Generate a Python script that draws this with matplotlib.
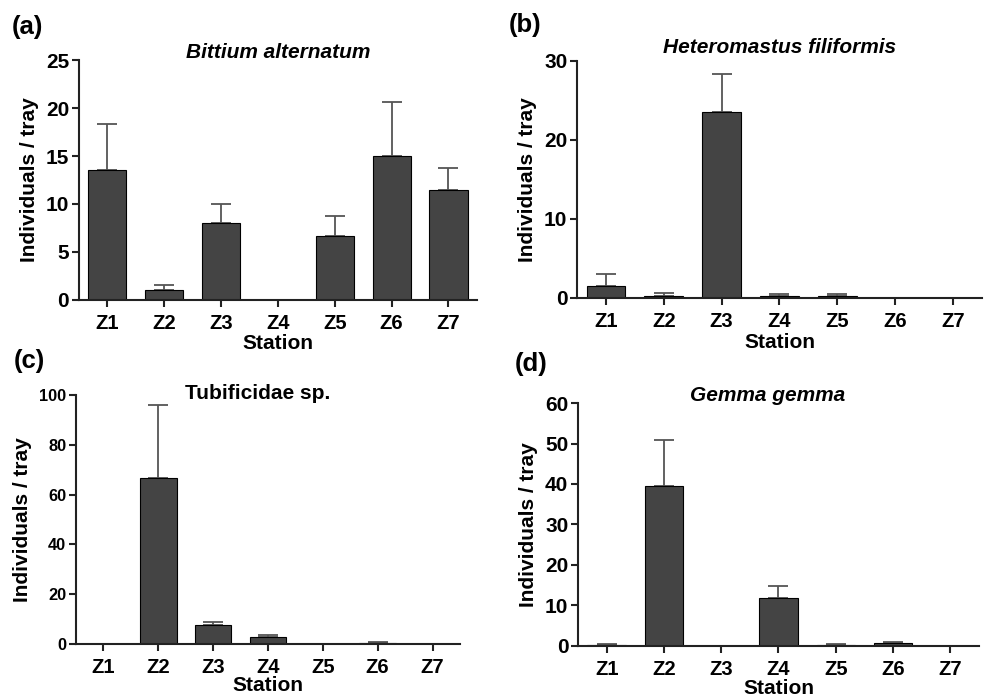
import matplotlib
matplotlib.use('Agg')
from matplotlib import pyplot as plt

plt.rcParams['font.family'] = ['Liberation Sans', 'DejaVu Sans']
plt.rcParams['font.weight'] = 'bold'

stations = ['Z1', 'Z2', 'Z3', 'Z4', 'Z5', 'Z6', 'Z7']

# 均值和误差上限
bittium_mean = [13.5, 1.0, 8.0, 0.0, 6.7, 15.0, 11.5]
bittium_top = [18.3, 1.6, 10.0, 0.0, 8.7, 20.6, 13.8]

hetero_mean = [1.5, 0.3, 23.6, 0.2, 0.2, 0.0, 0.0]
hetero_top = [3.0, 0.6, 28.3, 0.5, 0.5, 0.0, 0.0]

tubi_mean = [0.0, 66.7, 7.5, 3.0, 0.0, 0.3, 0.0]
tubi_top = [0.0, 96.0, 8.8, 3.8, 0.0, 0.8, 0.0]

gemma_mean = [0.3, 39.6, 0.0, 11.8, 0.3, 0.8, 0.0]
gemma_top = [0.6, 50.8, 0.0, 14.8, 0.6, 1.1, 0.0]

fig = plt.figure(figsize=(9.87, 6.97), dpi=100)


def panel(rect, mean, top, yticks, title, italic, title_xy, letter, letter_xy, tick_fs, station_y):
    ax = fig.add_axes(rect)
    x = list(range(len(stations)))
    err = [t - m for m, t in zip(mean, top)]
    ax.bar(x, mean, width=0.67, color='#444444', edgecolor='black', linewidth=0.8, zorder=2)
    for xi, m, e in zip(x, mean, err):
        if e > 0:
            ax.errorbar(xi, m, yerr=[[0], [e]], color='#555555', elinewidth=1.3,
                        capsize=7, capthick=1.3, zorder=1)
    ax.set_xlim(-0.5, 6.5)
    ax.set_ylim(0, yticks[-1])
    ax.set_yticks(yticks)
    ax.set_xticks(x)
    ax.set_xticklabels(stations, fontsize=14.5, fontweight='bold')
    ax.tick_params(axis='y', labelsize=tick_fs, width=1.5, length=5, color='#222222', pad=2)
    ax.tick_params(axis='x', width=1.5, length=5, color='#222222', pad=5)
    for lab in ax.get_yticklabels():
        lab.set_fontweight('bold')
    for s in ['top', 'right']:
        ax.spines[s].set_visible(False)
    for s in ['left', 'bottom']:
        ax.spines[s].set_linewidth(1.5)
        ax.spines[s].set_color('#222222')
    ax.set_ylabel('Individuals / tray', fontsize=15, fontweight='bold', labelpad=5)
    ax.text(title_xy[0], title_xy[1], title, transform=ax.transAxes, ha='center', va='center',
            fontsize=15, fontweight='bold', fontstyle='italic' if italic else 'normal')
    ax.text(0.5, station_y, 'Station', transform=ax.transAxes, ha='center', va='center',
            fontsize=15, fontweight='bold')
    fig.text(letter_xy[0], letter_xy[1], letter, fontsize=18.5, fontweight='bold', va='center')
    return ax


panel([0.080, 0.5696, 0.4032, 0.3443], bittium_mean, bittium_top, [0, 5, 10, 15, 20, 25],
      'Bittium alternatum', True, (0.5, 1.033), '(a)', (0.012, 0.961), 15, -0.183)
panel([0.5846, 0.5725, 0.4103, 0.340], hetero_mean, hetero_top, [0, 10, 20, 30],
      'Heteromastus filiformis', True, (0.499, 1.059), '(b)', (0.515, 0.964), 15, -0.19)
panel([0.077, 0.076, 0.389, 0.357], tubi_mean, tubi_top, [0, 20, 40, 60, 80, 100],
      'Tubificidae sp.', False, (0.474, 1.008), '(c)', (0.014, 0.482), 11.8, -0.165)
panel([0.5856, 0.0732, 0.4063, 0.3486], gemma_mean, gemma_top, [0, 10, 20, 30, 40, 50, 60],
      'Gemma gemma', True, (0.472, 1.029), '(d)', (0.522, 0.478), 15, -0.173)

plt.savefig('out.png', dpi=100)
